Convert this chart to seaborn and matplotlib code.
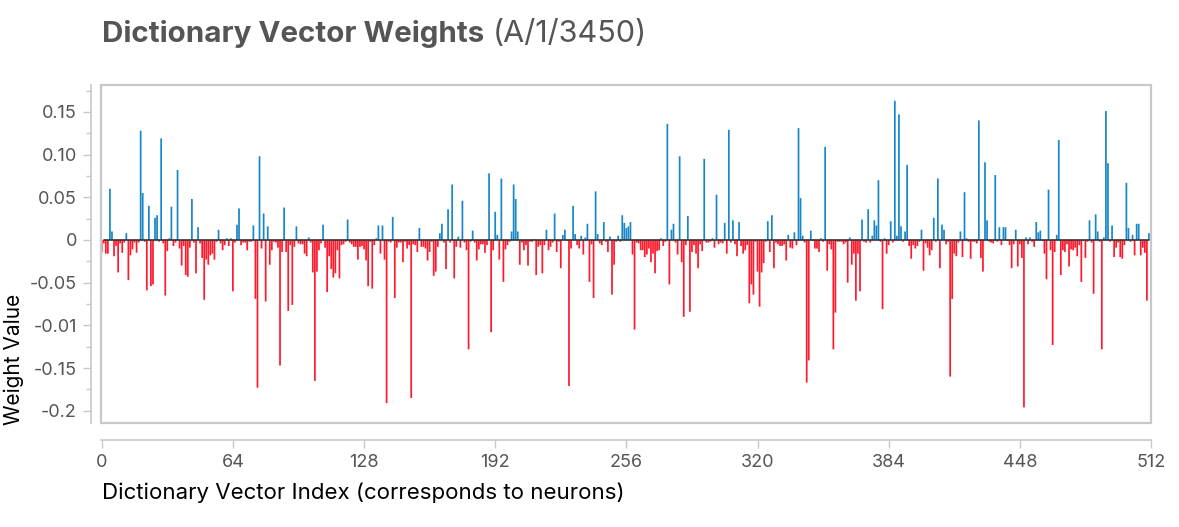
import numpy as np
import pandas as pd
import matplotlib
matplotlib.use("Agg")
import matplotlib.pyplot as plt
import seaborn as sns
from matplotlib.patches import Rectangle
from matplotlib.ticker import FixedLocator, MultipleLocator

# weights, 16 per row (index 0..511)
weights = [
    -0.014, -0.004, -0.016, -0.016, 0.060, 0.010, -0.019, -0.007, -0.038, -0.004, -0.015, -0.003, 0.008, -0.047, -0.018, -0.011,
    -0.003, -0.015, -0.003, 0.128, 0.055, -0.002, -0.059, 0.040, -0.054, -0.052, 0.026, 0.029, -0.002, 0.119, -0.004, -0.065,
    -0.013, 0.002, 0.039, -0.007, -0.003, 0.082, -0.010, -0.030, -0.007, -0.041, -0.043, -0.009, 0.048, -0.003, -0.039, 0.015,
    -0.004, -0.021, -0.070, -0.023, -0.029, -0.018, -0.016, -0.023, -0.002, 0.012, -0.004, -0.012, -0.006, 0.002, -0.007, 0.002,
    -0.060, -0.003, 0.018, 0.037, -0.006, -0.003, -0.003, -0.012, -0.002, -0.002, 0.017, -0.069, -0.173, 0.098, -0.010, 0.031,
    -0.072, 0.016, -0.029, -0.012, -0.002, -0.003, -0.009, -0.147, -0.014, 0.038, -0.014, -0.083, -0.006, -0.076, -0.008, 0.016,
    -0.004, -0.005, -0.005, -0.016, -0.019, 0.003, -0.003, -0.038, -0.165, -0.037, -0.012, -0.004, 0.018, -0.009, -0.061, -0.019,
    -0.034, -0.044, -0.039, -0.012, -0.045, -0.006, -0.005, -0.002, 0.024, -0.003, -0.005, -0.008, -0.008, -0.023, -0.008, -0.007,
    -0.011, -0.024, -0.054, -0.002, -0.057, -0.006, 0.002, 0.017, -0.016, 0.017, -0.023, -0.191, -0.002, -0.003, 0.027, -0.068,
    -0.009, -0.003, -0.003, -0.026, -0.002, -0.010, -0.006, -0.185, -0.005, -0.006, -0.014, 0.014, -0.008, -0.008, -0.010, -0.024,
    -0.014, -0.002, -0.042, -0.037, -0.008, 0.008, 0.019, -0.003, -0.034, 0.036, -0.003, 0.065, -0.045, -0.008, 0.004, -0.009,
    0.046, -0.003, -0.012, -0.128, -0.002, 0.011, -0.003, -0.024, -0.011, -0.005, -0.005, -0.015, -0.006, 0.078, -0.108, -0.012,
    0.033, 0.006, -0.023, 0.072, -0.049, -0.011, -0.006, -0.002, 0.010, 0.065, 0.048, 0.010, -0.029, -0.003, -0.012, -0.006,
    -0.030, -0.002, -0.002, 0.001, -0.041, -0.008, -0.006, -0.039, -0.006, 0.012, -0.012, -0.008, -0.003, 0.031, -0.014, -0.002,
    -0.033, 0.006, 0.012, -0.001, -0.171, -0.010, 0.040, 0.007, -0.006, -0.010, 0.005, -0.017, 0.003, 0.019, -0.049, -0.005,
    -0.068, 0.057, 0.007, -0.004, -0.006, 0.021, -0.002, -0.014, 0.004, -0.064, -0.029, -0.002, 0.005, -0.002, 0.029, 0.020,
    0.014, 0.016, 0.021, -0.017, -0.105, -0.003, -0.004, -0.012, -0.012, -0.020, -0.017, -0.010, -0.026, -0.016, -0.039, -0.013,
    -0.012, 0.002, -0.007, -0.002, 0.136, -0.052, 0.012, 0.019, -0.003, -0.017, 0.098, -0.026, -0.090, -0.006, 0.028, -0.084,
    -0.014, -0.006, -0.016, -0.033, -0.005, -0.013, 0.095, -0.003, -0.003, -0.002, 0.002, -0.009, 0.053, -0.005, -0.003, -0.004,
    0.020, -0.016, 0.129, -0.003, 0.023, -0.005, -0.019, 0.021, -0.007, -0.016, -0.012, -0.006, -0.074, -0.052, -0.064, -0.002,
    -0.037, -0.078, -0.038, -0.027, -0.002, 0.022, -0.014, 0.029, -0.033, -0.003, -0.005, -0.007, -0.007, -0.005, -0.024, 0.006,
    -0.009, -0.010, 0.009, -0.006, 0.131, 0.049, 0.005, -0.003, -0.167, -0.141, 0.011, -0.001, -0.010, -0.010, -0.014, 0.002,
    -0.002, 0.109, -0.036, -0.005, -0.011, -0.128, -0.085, -0.002, -0.002, -0.002, -0.005, -0.003, -0.050, 0.003, -0.029, -0.016,
    -0.071, -0.016, -0.060, 0.024, -0.002, -0.003, 0.036, -0.003, 0.005, 0.023, 0.017, 0.070, -0.002, -0.081, 0.002, -0.016,
    -0.006, 0.022, -0.003, 0.163, 0.005, 0.147, 0.016, -0.002, 0.010, 0.088, -0.007, -0.022, -0.006, -0.010, -0.007, -0.002,
    0.012, -0.036, -0.004, -0.009, -0.018, -0.012, 0.026, -0.002, 0.072, -0.033, 0.018, 0.012, -0.005, -0.002, -0.160, -0.069,
    -0.016, -0.019, -0.003, 0.010, -0.020, 0.056, 0.002, -0.002, -0.022, -0.002, -0.002, -0.004, 0.140, -0.021, -0.037, 0.091,
    0.023, -0.002, -0.003, -0.004, 0.076, -0.002, 0.015, -0.006, 0.015, 0.015, -0.001, -0.006, -0.033, -0.005, 0.012, -0.031,
    -0.005, -0.021, -0.196, 0.003, -0.005, 0.003, -0.002, -0.008, 0.021, 0.009, 0.011, -0.001, -0.016, -0.046, 0.059, -0.012,
    -0.123, -0.014, 0.006, 0.117, -0.041, -0.012, -0.014, -0.005, -0.031, -0.011, -0.012, -0.009, -0.019, -0.006, -0.049, -0.001,
    -0.021, -0.002, 0.023, -0.003, -0.063, 0.030, 0.010, -0.002, -0.128, 0.003, 0.151, 0.090, -0.002, 0.017, -0.020, -0.009,
    -0.003, -0.020, -0.022, -0.006, 0.067, 0.014, -0.002, 0.006, -0.018, 0.019, 0.019, -0.018, -0.009, -0.015, -0.071, 0.008,
]

x_ticks = [0, 64, 128, 192, 256, 320, 384, 448, 512]
y_ticks = [-0.2, -0.15, -0.1, -0.05, 0, 0.05, 0.1, 0.15]
y_tick_labels = ["-0.2", "-0.15", "-0.01", "-0.05", "0", "0.05", "0.10", "0.15"]

df = pd.DataFrame({"index": np.arange(len(weights)), "weight": weights})
pos = df[df["weight"] >= 0]
neg = df[df["weight"] < 0]

sns.set_theme(style="white")
plt.rcParams["font.family"] = ["Inter", "DejaVu Sans"]

GRAY = "#555555"
LIGHT = "#c8c8c8"
BAR_W = 0.85

fig = plt.figure(figsize=(11.79, 5.27), dpi=100)
ax = fig.add_axes([100.5 / 1179, 104 / 527, 1050.5 / 1179, 338 / 527])

for part, col in [(pos, "#1887c8"), (neg, "#ff1a2c")]:
    sns.barplot(data=part, x="index", y="weight", color=col, native_scale=True,
                saturation=1, errorbar=None, ax=ax)

# same width for every bar, and no pixel snapping so thin bars stay even
for p in ax.patches:
    c = p.get_x() + p.get_width() / 2
    p.set_width(BAR_W)
    p.set_x(c - BAR_W / 2)
    p.set_linewidth(0)
    p.set_edgecolor("none")
    p.set_snap(False)

ax.axhline(0, xmin=0.003, xmax=0.998, color="#333333", lw=1.2, zorder=3)

ax.set_xlim(-0.6, 512)
ax.set_ylim(-0.2143, 0.1815)

# frame around the plot area
ax.add_patch(Rectangle((0, 0), 1, 1, transform=ax.transAxes, fill=False,
                       ec=LIGHT, lw=1.6, clip_on=False, zorder=5))

for side in ["top", "right"]:
    ax.spines[side].set_visible(False)
ax.spines["left"].set_position(("outward", 6.5))
ax.spines["bottom"].set_position(("outward", 12))
for side in ["left", "bottom"]:
    ax.spines[side].set_color(LIGHT)
    ax.spines[side].set_linewidth(1.2)

ax.xaxis.set_major_locator(FixedLocator(x_ticks))
ax.set_xticklabels([str(t) for t in x_ticks])
ax.yaxis.set_major_locator(FixedLocator(y_ticks))
ax.set_yticklabels(y_tick_labels)
ax.yaxis.set_minor_locator(MultipleLocator(0.025))
ax.tick_params(axis="both", which="major", length=5.5, width=1, color=LIGHT,
               labelsize=13, labelcolor=GRAY, pad=5, left=True, bottom=True)
ax.tick_params(axis="y", which="minor", length=3.5, width=1, color=LIGHT, left=True)

ax.set_xlabel("Dictionary Vector Index (corresponds to neurons)", fontsize=16,
              color="black", loc="left")
ax.xaxis.set_label_coords(0.001, -0.175)
ax.set_ylabel("Weight Value", fontsize=15, color="black", loc="bottom")
ax.yaxis.set_label_coords(-0.0725, -0.005)

t1 = fig.text(102 / 1179, 1 - 42 / 527, "Dictionary Vector Weights", fontsize=21.3,
              fontweight="bold", color=GRAY, va="baseline", ha="left")
fig.canvas.draw()
bb = t1.get_window_extent()
fig.text((bb.x1 + 8) / 1179, 1 - 42 / 527, "(A/1/3450)", fontsize=22,
         color=GRAY, va="baseline", ha="left")

fig.savefig("out.png", dpi=100)
